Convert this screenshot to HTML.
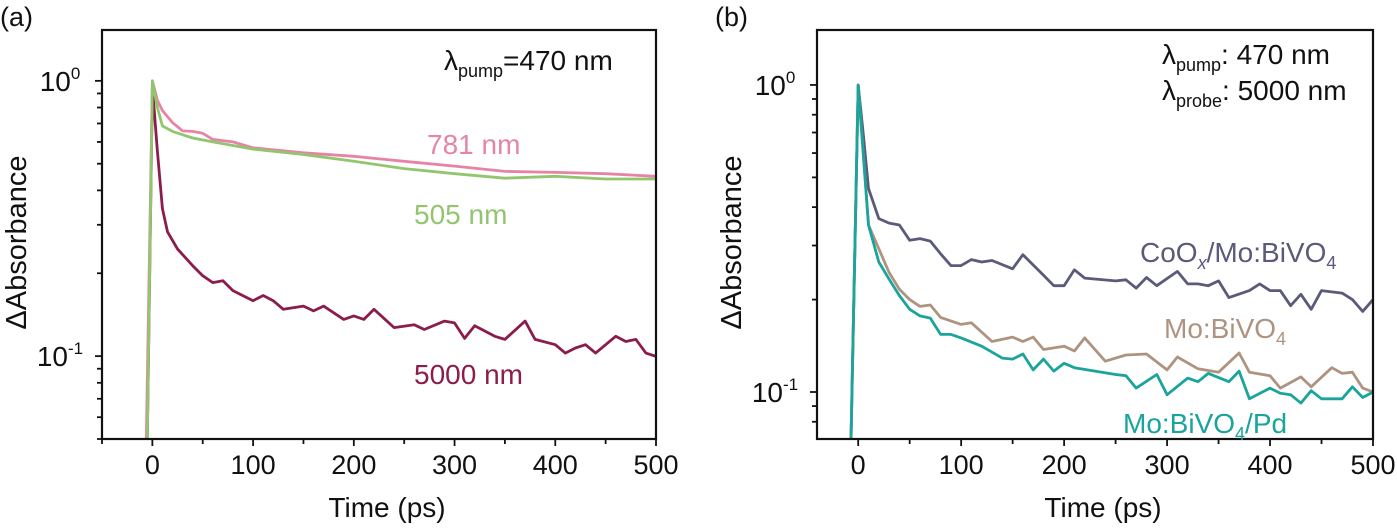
<!DOCTYPE html>
<html><head><meta charset="utf-8"><style>
body{margin:0;background:#fff;width:1397px;height:527px;overflow:hidden;font-family:"Liberation Sans",sans-serif}
svg text{font-family:"Liberation Sans",sans-serif}
</style></head><body>
<svg id="fig" width="1397" height="527"></svg>
<script>
// Panel (a) data
const aTimes5000=[-5,0,5,10,15,25,40,50,60,70,80,100,110,120,130,150,160,170,190,200,210,220,240,260,270,290,300,310,320,340,350,370,380,400,410,420,430,440,460,470,480,490,500];
const aVals5000=[0.05,0.95,0.555,0.344,0.283,0.245,0.213,0.196,0.185,0.188,0.173,0.159,0.166,0.159,0.148,0.152,0.146,0.152,0.136,0.140,0.136,0.148,0.127,0.130,0.125,0.134,0.132,0.116,0.129,0.118,0.115,0.134,0.115,0.110,0.1026,0.107,0.110,0.1026,0.118,0.113,0.115,0.1026,0.0998];
const aTimes781=[-6,0,5,10,20,30,40,50,60,80,100,150,200,250,300,350,400,450,500];
const aVals781=[0.05,1.0,0.85,0.78,0.705,0.658,0.655,0.645,0.613,0.60,0.571,0.548,0.532,0.51,0.49,0.469,0.465,0.46,0.45];
const aTimes505=[-5,0,5,10,20,40,60,100,150,200,250,300,350,400,450,500];
const aVals505=[0.05,1.0,0.8,0.686,0.655,0.62,0.60,0.565,0.54,0.51,0.48,0.46,0.443,0.45,0.44,0.44];
// Panel (b) data
const bTimesPd=[-7,0,10,20,30,40,50,60,70,80,90,100,120,140,150,160,170,180,190,200,210,250,260,270,290,300,320,330,340,360,370,380,400,410,420,430,440,450,470,480,490,500];
const bValsPd=[0.07,1.0,0.35,0.265,0.233,0.206,0.186,0.177,0.174,0.154,0.154,0.15,0.141,0.129,0.128,0.133,0.118,0.128,0.117,0.124,0.12,0.114,0.113,0.103,0.114,0.098,0.111,0.108,0.115,0.108,0.117,0.095,0.103,0.099,0.098,0.092,0.101,0.095,0.095,0.104,0.096,0.1];
const bTimesMo=[-7,0,10,20,30,40,50,60,70,80,100,110,130,150,160,170,180,200,210,220,240,260,280,300,310,330,350,370,380,400,410,430,440,460,470,480,490,500];
const bValsMo=[0.07,1.0,0.35,0.293,0.245,0.216,0.20,0.19,0.192,0.175,0.166,0.168,0.146,0.151,0.146,0.151,0.1375,0.141,0.136,0.15,0.126,0.132,0.133,0.118,0.13,0.119,0.116,0.134,0.116,0.113,0.103,0.112,0.104,0.12,0.115,0.116,0.103,0.1];
const bTimesCo=[-7,0,5,10,20,30,40,50,60,70,80,90,100,110,120,130,150,160,180,190,200,210,220,250,260,270,280,290,310,320,330,340,350,360,380,390,400,410,420,430,440,450,470,480,490,500];
const bValsCo=[0.07,1.0,0.69,0.46,0.367,0.355,0.35,0.312,0.316,0.31,0.282,0.258,0.258,0.27,0.265,0.268,0.252,0.28,0.24,0.222,0.222,0.25,0.235,0.23,0.232,0.218,0.236,0.222,0.247,0.225,0.225,0.222,0.23,0.203,0.214,0.225,0.214,0.214,0.191,0.208,0.186,0.214,0.21,0.2,0.183,0.2];
const xTicks=[0,100,200,300,400,500];

const NS='http://www.w3.org/2000/svg';
const svg=document.getElementById('fig');
function mk(tag,attrs,parent){const e=document.createElementNS(NS,tag);for(const k in attrs)e.setAttribute(k,attrs[k]);(parent||svg).appendChild(e);return e;}

function panel(p){
  const g=mk('g',{});
  
  
  const X=t=>p.x0+(t-p.xmin)/(p.xmax-p.xmin)*(p.x1-p.x0);
  const Y=v=>p.y1-(Math.log10(v)-Math.log10(p.ymin))/(Math.log10(p.ymax)-Math.log10(p.ymin))*(p.y1-p.y0);
  const clip='clip'+p.name;
  const cp=mk('clipPath',{id:clip},g);mk('rect',{x:p.x0,y:p.y0,width:p.x1-p.x0,height:p.y1-p.y0},cp);
  p.series.forEach(s=>{
    let d='';s.t.forEach((t,i)=>{d+=(i?'L':'M')+X(t).toFixed(1)+','+Y(Math.max(s.v[i],p.ymin*0.9)).toFixed(1);});
    const path=mk('path',{d:d,fill:'none',stroke:s.color,'stroke-width':2.8,'stroke-linejoin':'round','clip-path':'url(#'+clip+')'},g);
    
    
  });
  const frame=mk('rect',{x:p.x0,y:p.y0,width:p.x1-p.x0,height:p.y1-p.y0,fill:'none',stroke:'#111','stroke-width':2.2},g);
  
  
  for(let t=-50;t<=500;t+=50){ if(t<p.xmin)continue; const x=X(t);
    mk('line',{x1:x,x2:x,y1:p.y1,y2:p.y1+(t%100===0?7:5),stroke:'#111','stroke-width':1.8},g);}
  xTicks.forEach(t=>{const tx=mk('text',{x:X(t),y:p.y1+35,'font-size':27,'text-anchor':'middle',fill:'#111'},g);tx.textContent=t;
    
    });
  for(let e=-2;e<=0;e++)for(let m=1;m<=9;m++){const v=m*Math.pow(10,e);if(v<p.ymin||v>p.ymax)continue;const y=Y(v);
    mk('line',{x1:p.x0-(m===1?7:5),x2:p.x0,y1:y,y2:y,stroke:'#111','stroke-width':1.8},g);}
  [[1,'0'],[0.1,'-1']].forEach(([v,ex])=>{const tx=mk('text',{x:p.x0-42,y:Y(v)+10,'font-size':28,'text-anchor':'middle',fill:'#111'},g);
    tx.innerHTML='10<tspan dy="-12" font-size="17">'+ex+'</tspan>';
    
    });
  const xt=mk('text',{x:(p.x0+p.x1)/2+8,y:517,'font-size':28,'text-anchor':'middle',fill:'#111'},g);xt.textContent='Time (ps)';
  
  
  const yt=mk('text',{x:0,y:0,'font-size':29,'text-anchor':'middle',fill:'#111',transform:'translate('+(p.x0-76)+','+((p.y0+p.y1)/2+8)+') rotate(-90)'},g);yt.textContent='ΔAbsorbance';
  
  
  const pl=mk('text',{x:p.x0-102,y:26,'font-size':27,fill:'#111'},g);pl.textContent=p.label;
  
  
  return g;
}
const ga=panel({name:'panel-a',label:'(a)',x0:102,x1:656,y0:30,y1:439,xmin:-50,xmax:500,ymin:0.05,ymax:1.53,
 series:[{name:'line-5000nm',t:aTimes5000,v:aVals5000,color:'#8b1c4c'},{name:'line-781nm',t:aTimes781,v:aVals781,color:'#e784a6'},{name:'line-505nm',t:aTimes505,v:aVals505,color:'#92c66e'}]});
const gb=panel({name:'panel-b',label:'(b)',x0:817,x1:1373,y0:30,y1:439,xmin:-40,xmax:500,ymin:0.0703,ymax:1.51,
 series:[{name:'line-coox-mo-bivo4',t:bTimesCo,v:bValsCo,color:'#5b5a7a'},{name:'line-mo-bivo4',t:bTimesMo,v:bValsMo,color:'#ae9480'},{name:'line-mo-bivo4-pd',t:bTimesPd,v:bValsPd,color:'#1aa49b'}]});
function label(g,x,y,html,color,name,size){const t=mk('text',{x:x,y:y,'font-size':size||28,fill:color},g);t.innerHTML=html;
  
  }
label(ga,444,70,'λ<tspan dy="7" font-size="18">pump</tspan><tspan dy="-7">=470 nm</tspan>','#111','pump-annotation');
label(ga,427,154,'781 nm','#e784a6','label-781nm');
label(ga,414,224,'505 nm','#92c66e','label-505nm');
label(ga,414,384,'5000 nm','#8b1c4c','label-5000nm');
label(gb,1162,64,'λ<tspan dy="7" font-size="18">pump</tspan><tspan dy="-7">: 470 nm</tspan>','#111','pump-annotation');
label(gb,1162,100,'λ<tspan dy="7" font-size="18">probe</tspan><tspan dy="-7">: 5000 nm</tspan>','#111','probe-annotation');
label(gb,1140,262,'CoO<tspan dy="7" font-size="18" font-style="italic">x</tspan><tspan dy="-7">/Mo:BiVO</tspan><tspan dy="7" font-size="18">4</tspan>','#5b5a7a','label-coox');
label(gb,1164,338,'Mo:BiVO<tspan dy="7" font-size="18">4</tspan>','#ae9480','label-mo-bivo4');
label(gb,1123,433,'Mo:BiVO<tspan dy="7" font-size="18">4</tspan><tspan dy="-7">/Pd</tspan>','#1aa49b','label-mo-bivo4-pd');
</script>
</body></html>
